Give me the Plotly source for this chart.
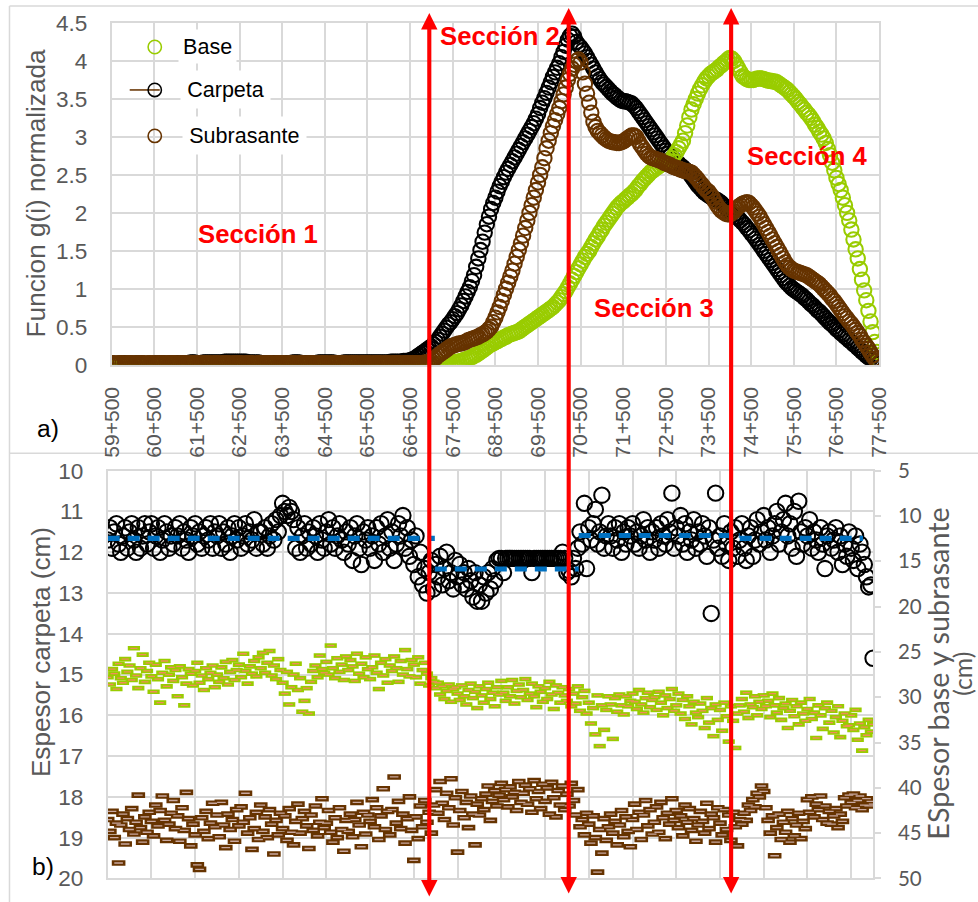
import plotly.graph_objects as go

# Figure size in CSS px; the page is displayed at ~0.974 scale with a small
# offset, so positions below are given in displayed pixels and converted.
W, H = 990, 908
SX, SY = 0.975, 0.972       # displayed px per figure px
OX, OY = 10.5, 12.0          # displayed position of the figure origin
Z = 1 / 0.974                # size factor for fonts, markers and offsets


def fx(x):
    """Displayed pixel (from left) -> paper fraction."""
    return ((x - OX) / SX) / W


def fy(y):
    """Displayed pixel (from top) -> paper fraction."""
    return 1 - ((y - OY) / SY) / H


def s(v):
    return round(v * Z, 2)


# ---------------------------------------------------------------- data
# a) normalised function g(i) every 50 m, 59+500 .. 77+500
km_top = [round(59.5 + 0.05 * i, 2) for i in range(361)]
tick_km = [59.5, 60.5, 61.5, 62.5, 63.5, 64.5, 65.5, 66.5, 67.5, 68.5,
           69.5, 70.5, 71.5, 72.5, 73.5, 74.5, 75.5, 76.5, 77.5]
tick_labels = ["59+500", "60+500", "61+500", "62+500", "63+500", "64+500",
               "65+500", "66+500", "67+500", "68+500", "69+500", "70+500",
               "71+500", "72+500", "73+500", "74+500", "75+500", "76+500",
               "77+500"]

g_carpeta = [
    0.01, 0.01, 0.01, 0.01, 0.01, 0.02, 0.02, 0.01, 0.01, 0.01,
    0.01, 0.01, 0.02, 0.02, 0.02, 0.01, 0.01, 0.01, 0.01, 0.01,
    0.01, 0.02, 0.02, 0.02, 0.02, 0.01, 0.01, 0.01, 0.02, 0.02,
    0.02, 0.02, 0.02, 0.02, 0.02, 0.02, 0.02, 0.03, 0.03, 0.03,
    0.02, 0.02, 0.02, 0.03, 0.03, 0.03, 0.03, 0.03, 0.03, 0.03,
    0.03, 0.03, 0.03, 0.04, 0.04, 0.04, 0.04, 0.04, 0.04, 0.04,
    0.04, 0.04, 0.04, 0.04, 0.03, 0.03, 0.03, 0.03, 0.03, 0.03,
    0.02, 0.02, 0.02, 0.02, 0.02, 0.02, 0.02, 0.02, 0.02, 0.02,
    0.02, 0.02, 0.02, 0.02, 0.02, 0.03, 0.03, 0.03, 0.03, 0.02,
    0.02, 0.02, 0.02, 0.02, 0.02, 0.02, 0.02, 0.03, 0.03, 0.03,
    0.03, 0.03, 0.03, 0.03, 0.03, 0.02, 0.02, 0.02, 0.02, 0.03,
    0.03, 0.03, 0.03, 0.03, 0.03, 0.03, 0.03, 0.03, 0.03, 0.03,
    0.03, 0.03, 0.03, 0.03, 0.03, 0.03, 0.03, 0.03, 0.03, 0.03,
    0.03, 0.04, 0.04, 0.04, 0.04, 0.04, 0.04, 0.05, 0.05, 0.05,
    0.06, 0.07, 0.08, 0.10, 0.12, 0.14, 0.16, 0.18, 0.20, 0.22,
    0.24, 0.27, 0.30, 0.33, 0.37, 0.41, 0.45, 0.49, 0.53, 0.56,
    0.60, 0.64, 0.68, 0.73, 0.78, 0.84, 0.90, 0.96, 1.02, 1.10,
    1.18, 1.29, 1.40, 1.51, 1.62, 1.74, 1.85, 1.95, 2.05, 2.13,
    2.20, 2.28, 2.35, 2.41, 2.47, 2.53, 2.58, 2.63, 2.68, 2.73,
    2.78, 2.83, 2.88, 2.93, 2.98, 3.03, 3.08, 3.13, 3.18, 3.24,
    3.30, 3.38, 3.45, 3.51, 3.58, 3.65, 3.72, 3.79, 3.85, 3.91,
    3.97, 4.05, 4.12, 4.20, 4.28, 4.33, 4.36, 4.32, 4.25, 4.21,
    4.18, 4.14, 4.10, 4.05, 4.00, 3.95, 3.90, 3.85, 3.80, 3.76,
    3.72, 3.69, 3.66, 3.63, 3.60, 3.57, 3.55, 3.52, 3.50, 3.48,
    3.47, 3.47, 3.46, 3.45, 3.44, 3.41, 3.38, 3.34, 3.30, 3.26,
    3.22, 3.18, 3.14, 3.10, 3.06, 3.02, 2.98, 2.94, 2.90, 2.86,
    2.82, 2.78, 2.75, 2.72, 2.70, 2.67, 2.65, 2.62, 2.60, 2.57,
    2.55, 2.52, 2.48, 2.44, 2.40, 2.36, 2.33, 2.30, 2.27, 2.25,
    2.23, 2.21, 2.20, 2.18, 2.17, 2.15, 2.13, 2.10, 2.07, 2.04,
    2.02, 2.00, 1.98, 1.95, 1.93, 1.90, 1.87, 1.84, 1.80, 1.77,
    1.73, 1.70, 1.66, 1.62, 1.58, 1.54, 1.50, 1.46, 1.42, 1.38,
    1.34, 1.30, 1.26, 1.22, 1.18, 1.14, 1.10, 1.07, 1.04, 1.01,
    0.99, 0.97, 0.95, 0.93, 0.91, 0.88, 0.86, 0.83, 0.80, 0.78,
    0.75, 0.72, 0.70, 0.67, 0.64, 0.61, 0.58, 0.55, 0.53, 0.50,
    0.47, 0.45, 0.42, 0.40, 0.37, 0.35, 0.32, 0.30, 0.27, 0.25,
    0.22, 0.20, 0.17, 0.15, 0.12, 0.10, 0.08, 0.06, 0.04, 0.03,
    0.02]

g_base = [
    0.00, 0.00, 0.00, 0.01, 0.00, 0.00, 0.00, 0.00, 0.01, 0.00,
    0.00, 0.00, 0.01, 0.00, 0.00, 0.00, 0.00, 0.01, 0.00, 0.00,
    0.00, 0.01, 0.00, 0.00, 0.00, 0.00, 0.01, 0.00, 0.00, 0.00,
    0.01, 0.00, 0.00, 0.00, 0.00, 0.01, 0.00, 0.00, 0.00, 0.01,
    0.00, 0.00, 0.00, 0.00, 0.01, 0.00, 0.00, 0.00, 0.01, 0.00,
    0.00, 0.00, 0.01, 0.00, 0.00, 0.00, 0.00, 0.01, 0.00, 0.00,
    0.00, 0.01, 0.00, 0.00, 0.00, 0.00, 0.01, 0.00, 0.00, 0.00,
    0.01, 0.00, 0.00, 0.00, 0.00, 0.01, 0.00, 0.00, 0.00, 0.01,
    0.00, 0.00, 0.00, 0.00, 0.01, 0.00, 0.00, 0.00, 0.01, 0.00,
    0.00, 0.00, 0.01, 0.00, 0.00, 0.00, 0.00, 0.01, 0.00, 0.00,
    0.00, 0.01, 0.00, 0.00, 0.00, 0.00, 0.01, 0.00, 0.00, 0.00,
    0.01, 0.00, 0.00, 0.00, 0.00, 0.01, 0.00, 0.00, 0.00, 0.01,
    0.00, 0.00, 0.00, 0.00, 0.01, 0.00, 0.00, 0.00, 0.01, 0.00,
    0.00, 0.00, 0.01, 0.00, 0.00, 0.00, 0.00, 0.01, 0.00, 0.00,
    0.00, 0.00, 0.00, 0.00, 0.00, 0.00, 0.00, 0.00, 0.00, 0.00,
    0.00, 0.00, 0.01, 0.01, 0.01, 0.01, 0.02, 0.02, 0.02, 0.02,
    0.03, 0.03, 0.04, 0.04, 0.05, 0.06, 0.07, 0.08, 0.09, 0.10,
    0.12, 0.13, 0.15, 0.17, 0.19, 0.21, 0.23, 0.25, 0.27, 0.28,
    0.30, 0.31, 0.33, 0.34, 0.36, 0.37, 0.39, 0.40, 0.41, 0.42,
    0.43, 0.44, 0.46, 0.48, 0.50, 0.52, 0.54, 0.56, 0.58, 0.60,
    0.62, 0.64, 0.66, 0.68, 0.70, 0.72, 0.74, 0.76, 0.79, 0.82,
    0.85, 0.89, 0.93, 0.97, 1.02, 1.07, 1.12, 1.17, 1.22, 1.27,
    1.32, 1.37, 1.42, 1.46, 1.50, 1.55, 1.60, 1.65, 1.69, 1.74,
    1.78, 1.83, 1.87, 1.91, 1.95, 1.99, 2.03, 2.07, 2.10, 2.13,
    2.15, 2.18, 2.20, 2.23, 2.25, 2.28, 2.31, 2.35, 2.38, 2.42,
    2.45, 2.48, 2.51, 2.54, 2.56, 2.58, 2.60, 2.62, 2.64, 2.65,
    2.66, 2.67, 2.68, 2.72, 2.76, 2.80, 2.85, 2.90, 2.95, 3.05,
    3.15, 3.26, 3.36, 3.43, 3.50, 3.57, 3.63, 3.68, 3.73, 3.77,
    3.80, 3.83, 3.85, 3.87, 3.89, 3.92, 3.94, 3.97, 3.99, 4.02,
    4.04, 4.03, 4.00, 3.95, 3.90, 3.85, 3.80, 3.78, 3.76, 3.75,
    3.75, 3.75, 3.76, 3.77, 3.77, 3.77, 3.76, 3.75, 3.74, 3.74,
    3.73, 3.73, 3.72, 3.70, 3.68, 3.66, 3.64, 3.62, 3.59, 3.56,
    3.53, 3.50, 3.46, 3.43, 3.39, 3.36, 3.32, 3.29, 3.25, 3.21,
    3.16, 3.12, 3.07, 3.03, 2.98, 2.92, 2.84, 2.76, 2.66, 2.56,
    2.46, 2.38, 2.30, 2.20, 2.10, 2.00, 1.90, 1.78, 1.65, 1.52,
    1.40, 1.26, 1.12, 0.98, 0.85, 0.71, 0.57, 0.43, 0.30, 0.17,
    0.05]

g_subrasante = [
    0.02, 0.02, 0.01, 0.02, 0.02, 0.02, 0.01, 0.02, 0.02, 0.02,
    0.02, 0.01, 0.02, 0.02, 0.02, 0.02, 0.01, 0.02, 0.02, 0.02,
    0.01, 0.02, 0.02, 0.02, 0.02, 0.01, 0.02, 0.02, 0.02, 0.02,
    0.02, 0.01, 0.02, 0.02, 0.02, 0.02, 0.01, 0.02, 0.02, 0.02,
    0.02, 0.02, 0.01, 0.02, 0.02, 0.02, 0.02, 0.01, 0.02, 0.02,
    0.02, 0.01, 0.02, 0.02, 0.02, 0.02, 0.01, 0.02, 0.02, 0.02,
    0.02, 0.02, 0.01, 0.02, 0.02, 0.02, 0.02, 0.01, 0.02, 0.02,
    0.02, 0.01, 0.02, 0.02, 0.02, 0.02, 0.01, 0.02, 0.02, 0.02,
    0.02, 0.02, 0.01, 0.02, 0.02, 0.02, 0.02, 0.01, 0.02, 0.02,
    0.02, 0.01, 0.02, 0.02, 0.02, 0.02, 0.01, 0.02, 0.02, 0.02,
    0.02, 0.02, 0.01, 0.02, 0.02, 0.02, 0.02, 0.01, 0.02, 0.02,
    0.02, 0.01, 0.02, 0.02, 0.02, 0.02, 0.01, 0.02, 0.02, 0.02,
    0.02, 0.02, 0.01, 0.02, 0.02, 0.02, 0.02, 0.01, 0.02, 0.02,
    0.02, 0.01, 0.02, 0.02, 0.02, 0.02, 0.01, 0.02, 0.02, 0.02,
    0.02, 0.02, 0.02, 0.02, 0.02, 0.02, 0.02, 0.03, 0.03, 0.04,
    0.05, 0.07, 0.09, 0.12, 0.14, 0.16, 0.18, 0.20, 0.22, 0.24,
    0.25, 0.26, 0.27, 0.28, 0.28, 0.29, 0.30, 0.32, 0.33, 0.34,
    0.35, 0.36, 0.37, 0.39, 0.40, 0.42, 0.44, 0.47, 0.50, 0.56,
    0.62, 0.69, 0.76, 0.84, 0.92, 1.00, 1.08, 1.16, 1.24, 1.33,
    1.42, 1.51, 1.60, 1.70, 1.80, 1.90, 2.00, 2.10, 2.20, 2.30,
    2.40, 2.50, 2.60, 2.72, 2.85, 2.95, 3.05, 3.14, 3.22, 3.30,
    3.38, 3.47, 3.56, 3.65, 3.75, 3.83, 3.90, 3.95, 4.00, 4.02,
    3.98, 3.85, 3.70, 3.57, 3.45, 3.32, 3.20, 3.13, 3.08, 3.05,
    3.02, 2.99, 2.97, 2.95, 2.94, 2.93, 2.93, 2.92, 2.92, 2.93,
    2.94, 2.96, 2.98, 3.00, 3.02, 3.02, 3.00, 2.95, 2.90, 2.86,
    2.82, 2.78, 2.75, 2.73, 2.72, 2.71, 2.70, 2.69, 2.68, 2.66,
    2.65, 2.64, 2.63, 2.61, 2.60, 2.59, 2.58, 2.57, 2.56, 2.55,
    2.55, 2.54, 2.53, 2.50, 2.47, 2.44, 2.40, 2.37, 2.33, 2.30,
    2.28, 2.24, 2.20, 2.15, 2.10, 2.06, 2.03, 2.01, 1.99, 1.98,
    1.98, 2.00, 2.02, 2.05, 2.08, 2.10, 2.12, 2.13, 2.14, 2.13,
    2.10, 2.07, 2.03, 1.99, 1.95, 1.90, 1.85, 1.80, 1.75, 1.70,
    1.65, 1.60, 1.55, 1.50, 1.45, 1.40, 1.35, 1.31, 1.28, 1.26,
    1.24, 1.23, 1.22, 1.21, 1.20, 1.19, 1.18, 1.16, 1.14, 1.12,
    1.10, 1.08, 1.06, 1.03, 1.00, 0.97, 0.94, 0.91, 0.87, 0.84,
    0.80, 0.76, 0.72, 0.68, 0.64, 0.61, 0.57, 0.54, 0.50, 0.46,
    0.42, 0.38, 0.33, 0.29, 0.25, 0.21, 0.16, 0.12, 0.08, 0.05,
    0.03]

# b) layer thicknesses every 50 m, 59+500 .. 77+000
km_bottom = [round(59.5 + 0.05 * i, 2) for i in range(351)]
grid_bottom = [59.5, 60.5, 61.5, 62.5, 63.5, 64.5, 65.5, 66.5, 67.5, 68.5,
               69.5, 70.5, 71.5, 72.5, 73.5, 74.5, 75.5, 76.5]

espesor_carpeta = [
    11.7, 11.4, 11.9, 11.5, 11.3, 11.8, 12.0, 11.6, 11.4, 11.9,
    11.5, 11.3, 11.7, 12.0, 11.4, 11.9, 11.6, 11.3, 11.8, 11.5,
    11.3, 11.9, 11.6, 11.4, 12.0, 11.7, 11.3, 11.5, 11.9, 11.6,
    11.8, 11.4, 11.6, 11.3, 11.9, 11.5, 11.7, 12.0, 11.4, 11.6,
    11.3, 11.8, 11.5, 11.9, 11.6, 11.4, 11.7, 11.3, 11.9, 11.5,
    11.6, 11.3, 11.9, 11.5, 11.8, 11.4, 12.0, 11.6, 11.3, 11.7,
    11.4, 11.9, 11.6, 11.3, 11.8, 11.5, 11.7, 11.2, 11.9, 11.5,
    11.5, 11.8, 11.4, 11.9, 11.6, 11.3, 11.7, 11.2, 11.5, 11.1,
    10.8, 11.0, 11.1, 10.9, 11.0, 11.2, 11.9, 11.4, 12.0, 11.6,
    11.3, 11.9, 11.5, 11.8, 11.4, 11.6, 12.0, 11.3, 11.7, 11.9,
    11.5, 11.2, 11.8, 11.4, 11.9, 11.6, 11.3, 11.7, 12.0, 11.5,
    11.8, 11.4, 12.2, 11.6, 11.3, 11.9, 12.3, 11.5, 11.7, 11.4,
    11.9, 11.6, 12.2, 11.4, 11.8, 11.3, 12.0, 11.6, 11.2, 11.9,
    11.5, 12.2, 11.8, 11.3, 11.6, 11.1, 11.9, 11.4, 12.1, 11.7,
    12.3, 11.6, 12.6, 12.0, 12.8, 12.4, 13.0, 12.5, 12.2, 12.9,
    12.3, 12.6, 12.1, 12.8, 12.4, 12.0, 12.7, 12.5, 12.9, 12.2,
    12.6, 12.3, 12.8, 12.5, 12.9, 12.4, 12.7, 13.1, 12.5, 13.2,
    12.8, 13.2, 12.6, 13.0, 12.5, 12.9, 12.4, 12.7, 12.2, 12.15,
    12.15, 12.5, 12.15, 12.15, 12.15, 12.15, 12.15, 12.15, 12.15, 12.15,
    12.15, 12.15, 12.15, 12.15, 12.5, 12.15, 12.15, 12.15, 12.15, 12.15,
    12.15, 12.15, 12.15, 12.15, 12.15, 12.15, 12.15, 12.15, 12.0, 12.15,
    12.5, 12.45, 12.6, 12.15, 12.4, 11.9, 11.5, 11.8, 10.8, 12.4,
    11.4, 11.7, 11.3, 10.95, 11.8, 11.5, 10.6, 11.9, 11.6, 11.3,
    11.6, 11.9, 11.4, 11.7, 11.3, 12.0, 11.5, 11.8, 11.4, 11.6,
    11.3, 11.8, 11.5, 11.9, 11.6, 11.2, 11.7, 11.4, 12.0, 11.5,
    11.7, 11.4, 11.9, 11.3, 11.6, 11.8, 11.2, 11.5, 10.55, 11.9,
    11.4, 11.6, 11.1, 11.8, 11.3, 12.0, 11.5, 11.7, 11.2, 11.9,
    11.5, 11.8, 11.3, 11.6, 12.1, 11.4, 13.5, 11.7, 10.55, 11.9,
    11.6, 12.1, 11.3, 11.8, 12.2, 11.5, 11.9, 11.4, 12.1, 11.7,
    11.3, 11.9, 12.2, 11.6, 11.4, 12.1, 11.7, 11.2, 11.8, 11.5,
    11.1, 11.7, 11.4, 12.0, 11.6, 11.3, 11.0, 11.8, 11.5, 11.2,
    10.8, 11.6, 11.3, 11.9, 11.0, 12.1, 10.75, 11.5, 11.8, 11.4,
    11.6, 11.2, 11.9, 11.5, 11.7, 12.0, 11.4, 11.8, 12.4, 11.6,
    11.5, 11.9, 11.7, 11.4, 12.0, 11.6, 12.3, 11.8, 12.1, 11.5,
    11.9, 12.2, 11.6, 12.4, 11.8, 12.0, 12.3, 12.6, 12.85, 12.8,
    14.6]

espesor_base = [
    27.8, 28.6, 26.9, 27.4, 29.1, 26.3, 27.9, 28.4, 25.8, 27.2,
    26.5, 28.1, 24.6, 27.6, 29.0, 26.8, 25.3, 28.3, 27.1, 26.2,
    27.7, 29.4, 26.4, 28.0, 30.6, 27.3, 26.0, 28.8, 27.5, 26.7,
    28.2, 27.0, 29.9, 26.6, 27.8, 30.9, 28.5, 26.9, 27.4, 28.7,
    27.1, 26.2, 28.4, 27.6, 29.2, 26.8, 28.0, 27.3, 26.5, 28.9,
    27.5, 28.3, 26.7, 27.9, 26.1, 28.6, 27.2, 25.9, 28.1, 27.0,
    26.4, 27.8, 25.2, 27.1, 28.5, 26.6, 27.4, 26.0, 27.7, 25.6,
    26.8, 25.1, 27.3, 26.2, 24.9, 27.6, 26.5, 28.0, 25.8, 27.0,
    28.4, 29.6, 27.2, 30.8, 28.9, 27.5, 26.3, 29.2, 27.9, 31.6,
    30.4, 29.0, 31.8, 28.3, 27.1, 26.5, 27.8, 25.4, 26.9, 27.3,
    26.1, 27.5, 24.3, 26.8, 27.9, 25.7, 27.2, 26.4, 28.1, 25.5,
    27.0, 25.9, 26.6, 28.2, 25.2, 27.4, 26.3, 27.8, 25.6, 26.9,
    28.0, 26.7, 25.4, 27.3, 29.1, 26.2, 27.6, 25.8, 28.4, 26.5,
    27.1, 25.5, 26.8, 28.3, 26.0, 27.5, 24.8, 26.9, 27.7, 25.9,
    26.4, 27.8, 25.6, 28.5, 27.0, 26.2, 27.4, 28.7, 27.9, 28.3,
    29.0, 28.4, 29.7, 28.8, 30.2, 29.3, 28.6, 30.5, 29.1, 28.9,
    29.6, 30.3, 28.7, 29.9, 30.8, 29.2, 28.5, 30.1, 29.4, 31.2,
    28.8, 29.8, 30.6, 29.1, 28.4, 30.2, 29.5, 31.0, 28.9, 29.7,
    28.2, 29.5, 30.4, 28.9, 29.9, 28.1, 30.7, 29.3, 28.6, 30.0,
    29.2, 28.0, 30.3, 29.6, 28.5, 29.9, 31.1, 28.8, 29.4, 30.5,
    29.0, 30.2, 28.3, 29.7, 31.3, 28.7, 29.5, 30.6, 28.9, 29.8,
    30.4, 29.1, 31.0, 29.6, 30.7, 28.8, 31.5, 30.0, 29.3, 31.8,
    30.6, 32.9, 31.2, 34.1, 29.8, 35.4, 30.9, 33.6, 31.4, 29.9,
    30.8, 34.6, 30.1, 31.6, 29.7, 30.9, 31.9, 29.9, 31.0, 30.4,
    29.6, 30.5, 31.3, 29.2, 30.8, 31.7, 30.1, 29.5, 31.1, 30.3,
    30.0, 31.4, 29.4, 30.6, 32.0, 29.8, 31.2, 30.2, 29.1, 31.5,
    30.9, 29.6, 31.8, 30.3, 32.4, 29.9, 31.0, 33.0, 30.5, 31.7,
    32.2, 30.7, 31.5, 33.4, 30.1, 32.8, 31.2, 34.3, 30.8, 32.5,
    31.4, 33.7, 30.6, 32.1, 34.9, 31.0, 32.6, 35.6, 31.8, 30.9,
    30.2, 31.6, 29.5, 32.3, 30.8, 31.1, 29.9, 32.0, 30.5, 31.3,
    29.8, 31.0, 30.4, 32.2, 29.6, 30.9, 31.7, 30.1, 32.5, 31.2,
    30.7, 33.4, 31.5, 30.3, 32.1, 31.0, 33.0, 30.6, 31.8, 32.6,
    31.3, 30.2, 32.4, 31.7, 34.5, 30.9, 32.0, 33.5, 31.2, 30.6,
    32.8, 31.5, 33.9, 32.2, 31.0, 34.4, 32.6, 31.8, 33.2, 33.1,
    32.0, 33.6, 31.4, 34.7, 32.9, 35.9, 33.3, 34.2, 32.5, 33.8,
    33.0]

espesor_subrasante = [
    43.5, 44.8, 42.6, 45.5, 43.9, 48.3, 44.1, 42.9, 46.2, 43.4,
    44.6, 42.3, 45.1, 43.8, 40.8, 44.4, 46.0, 43.2, 44.9, 42.7,
    43.7, 45.3, 41.9, 44.2, 42.5, 40.9, 43.6, 45.8, 44.0, 42.8,
    41.4, 44.5, 43.1, 45.9, 42.2, 44.7, 40.5, 43.4, 46.4, 44.0,
    45.2, 48.5, 49.0, 43.3, 44.8, 42.6, 45.6, 43.9, 41.7, 44.3,
    43.0, 45.4, 41.6, 44.1, 46.6, 42.9, 44.6, 43.5, 45.9, 42.4,
    44.2, 42.1, 43.8, 40.6, 45.0, 43.3, 46.8, 44.5, 42.7, 45.7,
    41.9, 44.8, 43.2, 45.5, 42.4, 44.0, 47.3, 43.6, 45.2, 42.8,
    44.5, 43.1, 45.8, 42.3, 44.9, 46.3, 43.7, 41.8, 45.0, 43.4,
    42.6, 44.2, 46.7, 43.0, 44.7, 42.0, 45.3, 43.8, 41.2, 44.4,
    43.9, 42.5, 44.9, 46.0, 43.3, 45.5, 42.2, 44.6, 47.0, 43.6,
    44.8, 42.9, 45.4, 43.5, 41.6, 44.1, 46.5, 42.7, 45.1, 43.0,
    43.7, 41.3, 44.3, 42.2, 45.7, 43.1, 40.1, 44.6, 42.6, 45.2,
    42.4, 38.8, 43.9, 41.5, 44.5, 42.9, 46.1, 43.4, 41.0, 44.7,
    48.0, 43.2, 45.6, 42.0, 44.3, 41.4, 43.8, 42.7, 45.0, 41.9,
    40.2, 42.8, 39.3, 41.7, 43.5, 40.6, 42.2, 39.0, 44.1, 41.1,
    47.1, 42.5, 40.4, 43.3, 41.6, 44.4, 40.9, 42.9, 46.3, 41.8,
    43.0, 41.2, 42.4, 40.7, 39.8, 43.6, 41.5, 40.3, 42.0, 40.8,
    39.5, 41.3, 40.2, 42.1, 39.9, 41.0, 40.5, 42.5, 39.3, 41.6,
    40.6, 39.7, 41.8, 40.1, 42.7, 39.2, 41.2, 40.4, 42.3, 39.6,
    41.5, 40.0, 42.9, 39.4, 41.1, 43.2, 40.3, 41.9, 39.8, 42.4,
    40.7, 42.0, 39.5, 41.4, 43.0, 40.2, 44.3, 43.5, 45.2, 42.8,
    44.0, 46.1, 43.1, 45.5, 49.3, 44.6, 47.2, 43.4, 45.8, 44.3,
    42.9, 45.0, 43.7, 46.3, 44.1, 42.5, 45.4, 43.2, 44.8, 46.5,
    43.5, 41.8, 44.6, 42.7, 45.7, 43.0, 41.4, 44.2, 42.4, 45.1,
    43.8, 42.1, 44.9, 41.6, 43.3, 45.6, 42.8, 44.0, 41.2, 43.6,
    42.5, 44.4, 43.1, 45.3, 41.9, 43.8, 42.3, 44.7, 43.4, 45.9,
    44.1, 42.6, 43.7, 45.0, 41.7, 44.5, 42.9, 43.3, 46.0, 42.2,
    43.9, 45.2, 42.4, 44.6, 43.0, 45.8, 42.7, 44.3, 46.4, 43.5,
    44.0, 42.8, 43.6, 41.9, 42.5, 41.3, 42.1, 40.6, 41.0, 39.8,
    40.4, 42.2, 43.6, 45.0, 43.1, 47.5, 44.4, 42.9, 45.7, 43.8,
    44.9, 42.6, 46.0, 43.4, 45.3, 44.1, 42.8, 45.6, 43.7, 44.5,
    41.3, 42.7, 41.0, 43.2, 41.8, 42.4, 40.9, 43.5, 42.0, 43.9,
    42.6, 44.0, 43.1, 42.3, 44.4, 42.9, 43.7, 41.1, 42.0, 40.8,
    41.6, 40.7, 42.2, 41.4, 40.9, 42.4, 41.9, 41.2, 42.0, 41.5,
    41.8]

# mean asphalt thickness per homogeneous section
tramo_limites = [59.5, 66.98, 70.27, 73.95, 76.77]
tramo_promedio = [11.66, 12.41, 11.59, 11.66]

# section boundaries (km) marked with double arrows
limites_seccion = [66.95, 70.22, 74.03]

# ---------------------------------------------------------------- style
GRID = "#d9d9d9"
GRAY = "#595959"
ARIAL = "Liberation Sans, Arial, sans-serif"
CALIBRI = "Lato, Liberation Sans, sans-serif"
C_BASE = "#99cc00"
C_CARP = "#000000"
C_SUB = "#663300"
RED = "#ff0000"

fig = go.Figure()

# a) normalised function (carpeta under base, subrasante on top)
for vals, col, name in [(g_carpeta, C_CARP, "Carpeta"),
                        (g_base, C_BASE, "Base"),
                        (g_subrasante, C_SUB, "Subrasante")]:
    fig.add_trace(go.Scatter(
        x=km_top, y=vals, mode="markers", name=name,
        marker=dict(symbol="circle-open", size=s(14), color=col,
                    line=dict(width=s(2), color=col)),
        xaxis="x", yaxis="y", showlegend=False))

# b) thicknesses
fig.add_trace(go.Scatter(
    x=km_bottom, y=espesor_carpeta, mode="markers",
    marker=dict(symbol="circle-open", size=s(15), color=C_CARP,
                line=dict(width=s(2), color=C_CARP)),
    xaxis="x2", yaxis="y2", showlegend=False))

mx, my = [], []
for i, v in enumerate(tramo_promedio):
    mx += [tramo_limites[i], tramo_limites[i + 1], None]
    my += [v, v, None]
fig.add_trace(go.Scatter(
    x=mx, y=my, mode="lines",
    line=dict(color="#0070c0", width=s(5), dash="12px,8px"),
    xaxis="x2", yaxis="y2", showlegend=False))

# dash-shaped markers: coloured frame with a lighter centre stroke
for vals, outer, inner, w_out, h_out in [
        (espesor_base, C_BASE, "#f08c5a", 8.5, 4.5),
        (espesor_subrasante, C_SUB, "#c8a8a0", 9.5, 5.5)]:
    fig.add_trace(go.Scatter(
        x=km_bottom, y=vals, mode="markers",
        marker=dict(symbol="line-ew", size=s(w_out), color=outer,
                    line=dict(width=s(h_out), color=outer)),
        xaxis="x2", yaxis="y3", showlegend=False))
    fig.add_trace(go.Scatter(
        x=km_bottom, y=vals, mode="markers",
        marker=dict(symbol="line-ew", size=s(w_out - 3.5), color=inner,
                    line=dict(width=s(1.3), color=inner)),
        xaxis="x2", yaxis="y3", showlegend=False))

# ---------------------------------------------------------------- axes
common = dict(showgrid=True, gridcolor=GRID, gridwidth=1.5, zeroline=False,
              showline=True, linecolor=GRID, linewidth=1.5, mirror=True)

fig.update_layout(
    width=W, height=H, autosize=False,
    margin=dict(l=0, r=0, t=0, b=0),
    paper_bgcolor="white", plot_bgcolor="white",
    xaxis=dict(domain=[fx(110), fx(876)], range=[59.5, 77.5],
               tickmode="array", tickvals=tick_km, ticktext=tick_labels,
               tickangle=-90, ticks="", ticklabelstandoff=12,
               tickfont=dict(family=ARIAL, size=s(20.5), color=GRAY),
               anchor="y", **common),
    yaxis=dict(domain=[fy(364), fy(22)], range=[0, 4.5], tick0=0, dtick=0.5,
               ticks="", ticklabelstandoff=18,
               tickfont=dict(family=ARIAL, size=s(22), color=GRAY),
               anchor="x", **common),
    xaxis2=dict(domain=[fx(106), fx(870)], range=[59.5, 77.0],
                tickmode="array", tickvals=grid_bottom, showticklabels=False,
                ticks="", anchor="y2", **common),
    yaxis2=dict(domain=[fy(878), fy(470)], range=[20, 10], tick0=10, dtick=1,
                ticks="", ticklabelstandoff=18,
                tickfont=dict(family=ARIAL, size=s(22), color=GRAY),
                anchor="x2", **common),
    yaxis3=dict(overlaying="y2", side="right", anchor="x2",
                range=[50, 5], tick0=5, dtick=5, showgrid=False,
                zeroline=False, showline=True, linecolor=GRID, linewidth=1.5,
                ticks="outside", ticklen=6, tickcolor=GRID, tickwidth=1.5,
                ticklabelstandoff=13,
                tickfont=dict(family=CALIBRI, size=s(20), color=GRAY)),
)

# ---------------------------------------------------------------- shapes
shapes = []
# chart frames
for (x0, y0, x1, y1) in [(8, 5, 990, 5), (8, 5, 8, 910),
                         (8, 452.5, 990, 452.5)]:
    shapes.append(dict(type="line", xref="paper", yref="paper",
                       x0=fx(x0), y0=fy(y0), x1=fx(x1), y1=fy(y1),
                       line=dict(color=GRID, width=1.5), layer="below"))

# double arrows separating the sections
tips = [(12, 896), (7, 893), (7, 893)]
hw, hl = s(8), s(16)
for km, (top, bot) in zip(limites_seccion, tips):
    shapes.append(dict(type="line", xref="x", yref="paper", x0=km, x1=km,
                       y0=fy(bot - 14), y1=fy(top + 14),
                       line=dict(color=RED, width=s(4))))
    shapes.append(dict(type="path", xref="x", yref="paper",
                       xsizemode="pixel", ysizemode="pixel",
                       xanchor=km, yanchor=fy(top),
                       path=f"M0,0 L{-hw},{-hl} L{hw},{-hl} Z",
                       fillcolor=RED, line=dict(width=0)))
    shapes.append(dict(type="path", xref="x", yref="paper",
                       xsizemode="pixel", ysizemode="pixel",
                       xanchor=km, yanchor=fy(bot),
                       path=f"M0,0 L{-hw},{hl} L{hw},{hl} Z",
                       fillcolor=RED, line=dict(width=0)))

# legend symbols
shapes.append(dict(type="line", xref="paper", yref="paper",
                   x0=fx(128), x1=fx(158), y0=fy(89), y1=fy(89),
                   line=dict(color=C_SUB, width=s(1.5))))
r = s(6.5)
for yc, col in [(46, C_BASE), (89, C_CARP), (135, C_SUB)]:
    shapes.append(dict(type="circle", xref="paper", yref="paper",
                       xsizemode="pixel", ysizemode="pixel",
                       xanchor=fx(153), yanchor=fy(yc),
                       x0=-r, x1=r, y0=-r, y1=r,
                       line=dict(color=col, width=s(1.5)),
                       fillcolor="rgba(0,0,0,0)"))
fig.update_layout(shapes=shapes)

# ---------------------------------------------------------------- text
ann = []


def label(text, x, y, size, color, bold=False, angle=0, family=ARIAL,
          xanchor="center", bg=None, pad=1):
    ann.append(dict(text=f"<b>{text}</b>" if bold else text,
                    x=fx(x), y=fy(y), xref="paper", yref="paper",
                    showarrow=False, textangle=angle,
                    xanchor=xanchor, yanchor="middle",
                    font=dict(family=family, size=s(size), color=color),
                    bgcolor=bg, borderpad=s(pad)))


label("Funcion g(i) normalizada", 34, 192, 25.5, GRAY, angle=-90)
label("Espesor carpeta (cm)", 39, 652, 25.5, GRAY, angle=-90)
label("ESpesor base y subrasante", 934, 673, 28, GRAY, angle=-90,
      family=CALIBRI)
label("(cm)", 959, 673, 24, GRAY, angle=-90, family=CALIBRI, pad=0)

label("Sección 1", 256, 233, 25, RED, bold=True)
label("Sección 2", 498, 35, 25, RED, bold=True)
label("Sección 3", 651, 307, 25, RED, bold=True)
label("Sección 4", 805, 155, 25, RED, bold=True)

label("Base", 176, 46, 21, "#000000", xanchor="left", bg="white", pad=4)
label("Carpeta", 178, 89, 21, "#000000", xanchor="left", bg="white", pad=6)
label("Subrasante", 180, 135, 21, "#000000", xanchor="left", bg="white",
      pad=6)

label("a)", 46, 428, 24, "#000000")
label("b)", 41, 866, 24, "#000000")

fig.update_layout(annotations=ann)

fig.write_html("out.html")
